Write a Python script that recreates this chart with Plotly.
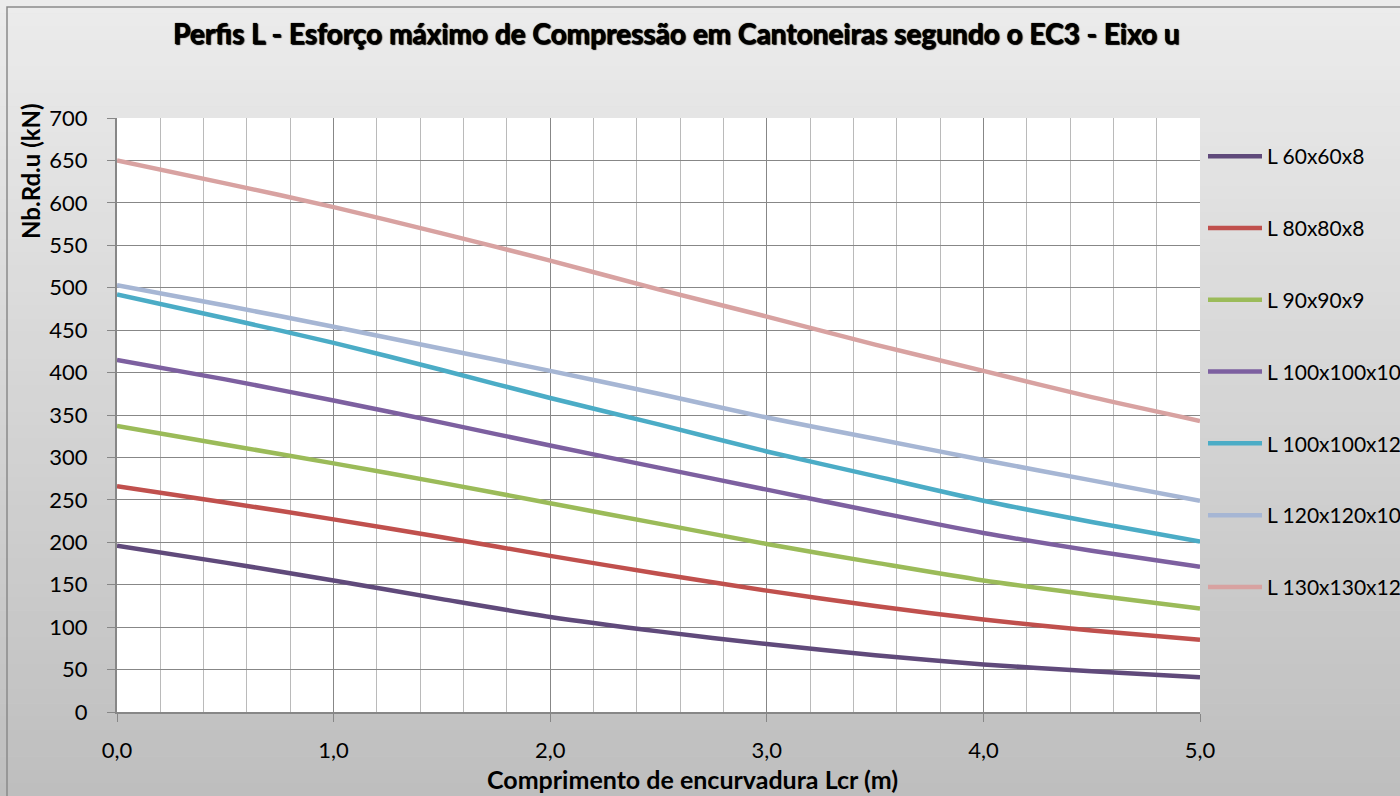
import plotly.graph_objects as go

# ---- data ----
x_lcr = [0, 0.5, 1, 1.5, 2, 2.5, 3, 3.5, 4, 4.5, 5]
series_names = ["L 60x60x8", "L 80x80x8", "L 90x90x9", "L 100x100x10",
                "L 100x100x12", "L 120x120x10", "L 130x130x12"]
nb_60x60x8 = [196, 176, 155, 133, 112, 95, 80, 67, 56, 48, 41]
nb_80x80x8 = [266, 247, 227, 206, 184, 163, 143, 125, 109, 96, 85]
nb_90x90x9 = [337, 315, 293, 270, 246, 222, 198, 176, 155, 138, 122]
nb_100x100x10 = [415, 392, 367, 341, 314, 288, 262, 236, 211, 190, 171]
nb_100x100x12 = [492, 464, 435, 403, 370, 339, 307, 278, 249, 224, 201]
nb_120x120x10 = [503, 479, 454, 428, 402, 375, 347, 322, 297, 273, 249]
nb_130x130x12 = [650, 623, 595, 564, 532, 498, 466, 433, 402, 371, 343]
series_values = [nb_60x60x8, nb_80x80x8, nb_90x90x9, nb_100x100x10,
                 nb_100x100x12, nb_120x120x10, nb_130x130x12]

x_tick_vals = [0, 1, 2, 3, 4, 5]
x_tick_text = ["0,0", "1,0", "2,0", "3,0", "4,0", "5,0"]
y_tick_vals = [0, 50, 100, 150, 200, 250, 300, 350, 400, 450, 500, 550, 600, 650, 700]

title_text = "Perfis L - Esforço máximo de Compressão em Cantoneiras segundo o EC3 - Eixo u"
x_title = "Comprimento de encurvadura Lcr (m)"
y_title = "Nb.Rd.u (kN)"

# ---- styling ----
colors = ["#604a7b", "#c0504d", "#9bbb59", "#7d60a0", "#4bacc6", "#a6b6d4", "#d8a2a1"]
W, H = 1400, 796
ML, MR, MT, MB = 117, 200, 118, 84
PW, PH = W - ML - MR, H - MT - MB
FONT = "Lato, 'Open Sans', sans-serif"


def px_x(px):
    return (px - ML) / PW


def px_y(py):
    return (H - MB - py) / PH


fig = go.Figure()
for i, (name, vals) in enumerate(zip(series_names, series_values)):
    fig.add_trace(go.Scatter(
        x=x_lcr, y=vals, name=name, mode="lines",
        line=dict(color=colors[i], width=4.5, shape="spline", smoothing=0.8),
        legendgroup=f"g{i}", hoverinfo="x+y+name",
    ))

# gradient background built from horizontal bands
shapes = []
nb = 60
top_c, bot_c = 236, 190
for k in range(nb):
    y0p = k * H / nb
    y1p = (k + 1) * H / nb
    t = (k + 0.5) / nb
    c = round(top_c + (bot_c - top_c) * t)
    shapes.append(dict(type="rect", xref="paper", yref="paper", layer="below",
                       x0=px_x(0), x1=px_x(W), y0=px_y(y1p + 0.5), y1=px_y(y0p),
                       fillcolor=f"rgb({c},{c},{c})", line=dict(width=0)))
# outer chart border
shapes.append(dict(type="rect", xref="paper", yref="paper", layer="below",
                   x0=px_x(7), x1=px_x(W + 20), y0=px_y(H + 20), y1=px_y(7),
                   fillcolor="rgba(0,0,0,0)", line=dict(color="#8a8a8a", width=1.5)))
# white plot area
shapes.append(dict(type="rect", xref="paper", yref="paper", layer="below",
                   x0=0, x1=1, y0=0, y1=1, fillcolor="white", line=dict(width=0)))

fig.update_layout(
    width=W, height=H,
    margin=dict(l=ML, r=MR, t=MT, b=MB, pad=0, autoexpand=False),
    paper_bgcolor="#dcdcdc", plot_bgcolor="white",
    font=dict(family=FONT, size=21, color="#000000"),
    shapes=shapes,
    showlegend=True,
    legend=dict(x=px_x(1203), xanchor="left", y=px_y(136), yanchor="top",
                bgcolor="rgba(0,0,0,0)", borderwidth=0,
                font=dict(family=FONT, size=21, color="#000"),
                tracegroupgap=41.5, itemwidth=54, traceorder="grouped"),
    annotations=[
        dict(text=title_text, xref="paper", yref="paper", x=px_x(676), y=px_y(33),
             xanchor="center", yanchor="middle", showarrow=False,
             font=dict(family=FONT, size=28, color="#000", weight="bold",
                       shadow="0px 0px 1px #000, 1px 1px 1px #000")),
        dict(text=x_title, xref="paper", yref="paper", x=px_x(692), y=px_y(779),
             xanchor="center", yanchor="middle", showarrow=False,
             font=dict(family=FONT, size=25, color="#000", weight="bold")),
        dict(text=y_title, xref="paper", yref="paper", x=px_x(30), y=px_y(171),
             xanchor="center", yanchor="middle", showarrow=False, textangle=-90,
             font=dict(family=FONT, size=24, color="#000", weight="bold")),
    ],
)

fig.update_xaxes(
    range=[0, 5], tickmode="array", tickvals=x_tick_vals, ticktext=x_tick_text,
    showgrid=True, gridcolor="#878787", gridwidth=1.3,
    minor=dict(dtick=0.2, tick0=0, showgrid=True, gridcolor="#bababa", gridwidth=1.3,
               ticks=""),
    ticks="outside", ticklen=8, tickwidth=1.3, tickcolor="#878787",
    showline=True, linecolor="#878787", linewidth=1.5,
    zeroline=False, ticklabelstandoff=10,
    tickfont=dict(family=FONT, size=22, color="#000"),
)
fig.update_yaxes(
    range=[0, 700], tickmode="array", tickvals=y_tick_vals,
    showgrid=True, gridcolor="#878787", gridwidth=1.3,
    ticks="outside", ticklen=8, tickwidth=1.3, tickcolor="#878787",
    showline=True, linecolor="#878787", linewidth=2,
    zeroline=False, ticklabelstandoff=15,
    tickfont=dict(family=FONT, size=22, color="#000"),
)

fig.write_html("out.html")
